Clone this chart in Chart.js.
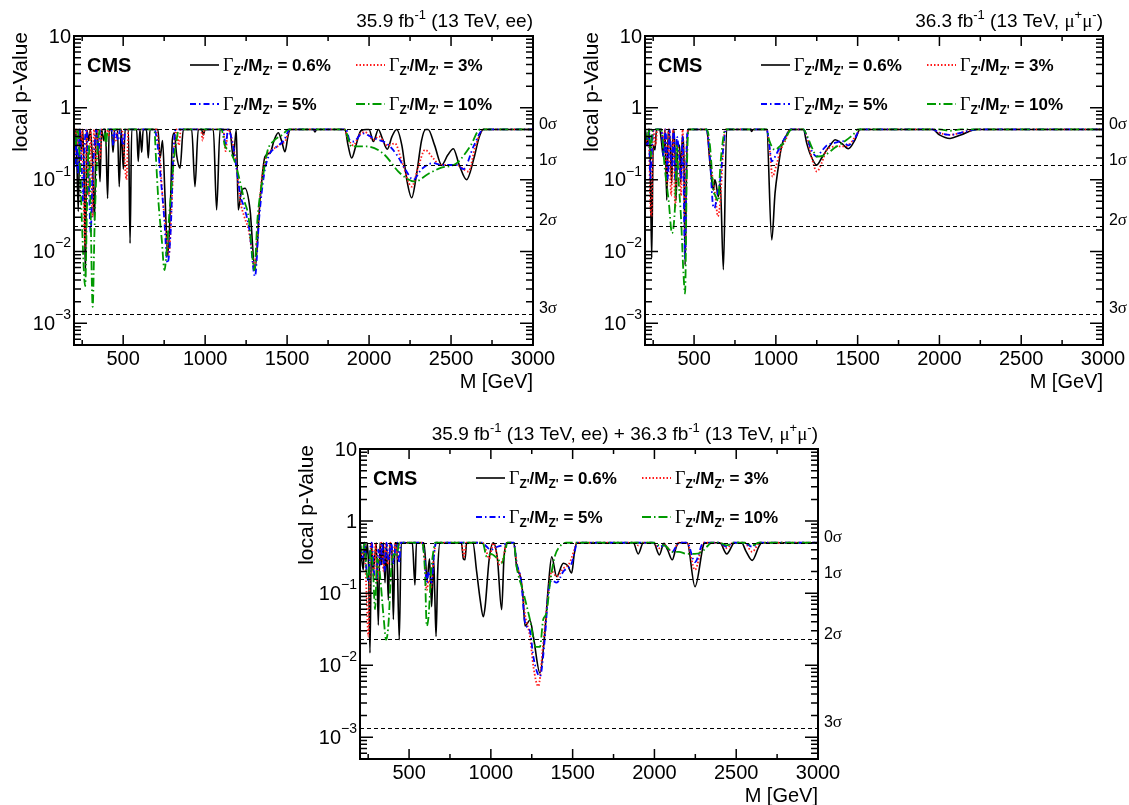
<!DOCTYPE html>
<html>
<head>
<meta charset="utf-8">
<script src="https://cdn.jsdelivr.net/npm/chart.js@4.4.1/dist/chart.umd.min.js"></script>
<style>
  html, body { margin: 0; padding: 0; background: #fff; }
  body { width: 1129px; height: 805px; position: relative; overflow: hidden; }
  canvas { position: absolute; }
</style>
</head>
<body>
<canvas id="eeChart" width="565" height="400" style="left:0;top:0"></canvas>
<canvas id="mmChart" width="564" height="400" style="left:565px;top:0"></canvas>
<canvas id="llChart" width="565" height="392" style="left:286px;top:413px"></canvas>
<script>
// Axis / category values
const widthLabels = ['0.6%', '3%', '5%', '10%'];
const massTicks = [500, 1000, 1500, 2000, 2500, 3000];
const decadeTicks = [-3, -2, -1, 0, 1];
const sigmaNames = ['0', '1', '2', '3'];
const sigmaP = [0.5, 0.1587, 0.02275, 0.00135];

// ee channel: [mass GeV, local p-value]
const eeW06 = [[200,0.5],[206,0.3],[212,0.5],[226,0.036],[236,0.5],[246,0.25],[254,0.5],[262,0.1],[270,0.0045],[278,0.5],[290,0.35],[300,0.5],[312,0.2],[325,0.027],[335,0.5],[348,0.3],[359,0.094],[368,0.5],[382,0.35],[392,0.5],[405,0.055],[415,0.5],[428,0.5],[438,0.24],[448,0.5],[465,0.5],[476,0.08],[488,0.5],[501,0.14],[512,0.5],[532,0.5],[542,0.013],[552,0.5],[582,0.5],[592,0.18],[602,0.5],[613,0.24],[622,0.5],[642,0.5],[653,0.2],[664,0.5],[712,0.5],[725,0.2],[740,0.35],[755,0.06],[772,0.0086],[790,0.06],[800,0.36],[812,0.45],[826,0.22],[847,0.145],[867,0.5],[918,0.5],[938,0.08],[958,0.5],[978,0.5],[989,0.42],[1000,0.5],[1050,0.5],[1070,0.038],[1091,0.5],[1150,0.5],[1172,0.2],[1190,0.5],[1202,0.038],[1222,0.07],[1243,0.076],[1274,0.038],[1304,0.0056],[1335,0.052],[1365,0.21],[1396,0.235],[1420,0.35],[1446,0.45],[1466,0.35],[1487,0.245],[1505,0.4],[1518,0.5],[1660,0.5],[1670,0.46],[1680,0.5],[1853,0.5],[1872,0.3],[1894,0.2],[1920,0.3],[1950,0.48],[1985,0.5],[2000,0.5],[2026,0.34],[2057,0.5],[2080,0.38],[2111,0.265],[2140,0.4],[2168,0.5],[2200,0.3],[2230,0.1],[2260,0.056],[2290,0.12],[2320,0.35],[2345,0.5],[2360,0.5],[2400,0.3],[2443,0.16],[2480,0.22],[2514,0.27],[2550,0.16],[2595,0.1],[2640,0.2],[2670,0.38],[2697,0.5],[3000,0.5]];
const eeW3 = [[200,0.5],[205,0.2],[212,0.5],[222,0.3],[230,0.5],[240,0.15],[250,0.5],[260,0.04],[268,0.012],[276,0.5],[290,0.06],[300,0.5],[312,0.03],[322,0.5],[335,0.16],[345,0.5],[360,0.2],[370,0.5],[402,0.5],[410,0.4],[418,0.5],[440,0.5],[455,0.35],[468,0.5],[492,0.5],[505,0.25],[520,0.1],[532,0.5],[700,0.5],[720,0.25],[740,0.06],[760,0.02],[778,0.009],[795,0.04],[810,0.25],[825,0.5],[840,0.3],[852,0.5],[975,0.5],[985,0.35],[995,0.5],[1110,0.5],[1125,0.25],[1140,0.5],[1165,0.35],[1190,0.16],[1215,0.05],[1240,0.03],[1265,0.02],[1285,0.01],[1300,0.006],[1320,0.02],[1345,0.1],[1370,0.2],[1400,0.25],[1450,0.3],[1490,0.35],[1517,0.5],[1850,0.5],[1870,0.38],[1904,0.3],[1940,0.42],[1975,0.46],[2026,0.36],[2060,0.4],[2111,0.3],[2158,0.32],[2200,0.18],[2260,0.08],[2300,0.15],[2341,0.26],[2390,0.2],[2433,0.16],[2535,0.16],[2606,0.13],[2650,0.3],[2697,0.5],[3000,0.5]];
const eeW5 = [[200,0.5],[208,0.15],[215,0.4],[225,0.12],[235,0.5],[245,0.2],[255,0.05],[265,0.3],[275,0.5],[290,0.1],[302,0.018],[312,0.1],[325,0.3],[335,0.5],[350,0.25],[360,0.5],[430,0.5],[440,0.3],[450,0.5],[470,0.35],[480,0.5],[500,0.3],[515,0.5],[690,0.5],[710,0.3],[730,0.1],[750,0.03],[770,0.0069],[790,0.02],[805,0.2],[820,0.5],[1110,0.5],[1125,0.3],[1140,0.5],[1170,0.3],[1190,0.15],[1215,0.06],[1240,0.04],[1270,0.02],[1304,0.0045],[1330,0.03],[1360,0.12],[1390,0.22],[1430,0.28],[1480,0.35],[1517,0.5],[1860,0.5],[1880,0.36],[1904,0.34],[1960,0.44],[2026,0.38],[2070,0.35],[2107,0.32],[2170,0.22],[2220,0.14],[2270,0.1],[2320,0.14],[2392,0.17],[2443,0.16],[2535,0.16],[2575,0.14],[2640,0.3],[2697,0.5],[3000,0.5]];
const eeW10 = [[200,0.5],[210,0.3],[220,0.5],[235,0.2],[250,0.02],[268,0.0033],[280,0.05],[290,0.3],[300,0.05],[314,0.0017],[325,0.02],[338,0.15],[350,0.4],[360,0.5],[385,0.5],[395,0.3],[405,0.5],[690,0.5],[700,0.2],[715,0.05],[735,0.015],[752,0.0055],[765,0.01],[780,0.03],[795,0.08],[810,0.2],[825,0.35],[840,0.5],[1100,0.5],[1120,0.3],[1150,0.25],[1180,0.18],[1210,0.1],[1240,0.05],[1265,0.03],[1285,0.01],[1300,0.0055],[1320,0.03],[1350,0.1],[1380,0.25],[1420,0.35],[1470,0.42],[1510,0.5],[1850,0.5],[1894,0.29],[1985,0.29],[2087,0.23],[2189,0.123],[2280,0.094],[2360,0.12],[2433,0.145],[2535,0.17],[2620,0.3],[2677,0.5],[3000,0.5]];

// mumu channel
const mmW06 = [[200,0.5],[215,0.3],[225,0.5],[232,0.2],[241,0.0081],[250,0.3],[261,0.26],[270,0.5],[290,0.5],[300,0.35],[312,0.21],[322,0.5],[333,0.052],[342,0.5],[355,0.3],[363,0.089],[372,0.5],[382,0.3],[390,0.052],[400,0.3],[412,0.3],[418,0.089],[428,0.4],[438,0.2],[445,0.0065],[455,0.2],[465,0.5],[577,0.5],[597,0.17],[618,0.072],[627,0.1],[634,0.089],[648,0.058],[660,0.09],[679,0.0056],[699,0.5],[842,0.5],[852,0.47],[862,0.5],[944,0.5],[975,0.0145],[995,0.065],[1015,0.15],[1036,0.3],[1066,0.42],[1087,0.5],[1168,0.5],[1189,0.32],[1209,0.23],[1250,0.16],[1280,0.2],[1311,0.26],[1340,0.32],[1362,0.36],[1403,0.32],[1443,0.27],[1484,0.36],[1515,0.5],[1960,0.5],[2000,0.42],[2065,0.375],[2130,0.42],[2230,0.5],[3000,0.5]];
const mmW3 = [[200,0.5],[212,0.3],[222,0.5],[232,0.05],[240,0.031],[250,0.5],[265,0.3],[275,0.5],[300,0.5],[312,0.3],[322,0.5],[335,0.08],[345,0.5],[360,0.06],[372,0.5],[385,0.04],[395,0.3],[410,0.2],[420,0.06],[430,0.5],[440,0.1],[447,0.01],[455,0.3],[465,0.5],[577,0.5],[597,0.2],[615,0.1],[630,0.06],[645,0.031],[660,0.05],[675,0.2],[690,0.5],[944,0.5],[960,0.3],[980,0.11],[1000,0.15],[1030,0.26],[1060,0.36],[1090,0.5],[1168,0.5],[1189,0.4],[1220,0.2],[1250,0.13],[1280,0.17],[1311,0.26],[1372,0.29],[1420,0.29],[1460,0.33],[1500,0.45],[1515,0.5],[1960,0.5],[2000,0.45],[2065,0.42],[2130,0.45],[2230,0.5],[3000,0.5]];
const mmW5 = [[200,0.5],[215,0.3],[225,0.5],[232,0.1],[240,0.2],[250,0.5],[300,0.5],[315,0.2],[325,0.5],[340,0.1],[350,0.5],[365,0.15],[375,0.5],[385,0.1],[395,0.4],[410,0.2],[420,0.1],[430,0.4],[445,0.008],[455,0.3],[465,0.5],[577,0.5],[597,0.2],[615,0.045],[625,0.04],[640,0.06],[660,0.1],[680,0.3],[695,0.5],[944,0.5],[960,0.3],[975,0.18],[1000,0.22],[1030,0.3],[1060,0.4],[1090,0.5],[1168,0.5],[1189,0.4],[1220,0.25],[1250,0.21],[1280,0.25],[1311,0.3],[1372,0.33],[1403,0.35],[1443,0.3],[1484,0.38],[1515,0.5],[1960,0.5],[2000,0.45],[2065,0.42],[2130,0.45],[2230,0.5],[3000,0.5]];
const mmW10 = [[200,0.5],[215,0.35],[225,0.5],[235,0.2],[245,0.5],[300,0.5],[320,0.15],[345,0.05],[365,0.018],[385,0.05],[395,0.3],[405,0.1],[420,0.03],[435,0.005],[445,0.0026],[455,0.1],[465,0.5],[577,0.5],[597,0.3],[618,0.072],[630,0.06],[648,0.05],[660,0.15],[680,0.4],[690,0.5],[944,0.5],[960,0.35],[995,0.26],[1030,0.3],[1046,0.32],[1070,0.42],[1097,0.5],[1168,0.5],[1188,0.42],[1230,0.25],[1250,0.21],[1300,0.22],[1362,0.28],[1403,0.32],[1460,0.4],[1484,0.45],[1500,0.5],[2000,0.5],[2065,0.48],[2130,0.5],[3000,0.5]];

// ee + mumu combined
const llW06 = [[200,0.5],[210,0.3],[220,0.21],[228,0.5],[236,0.3],[245,0.5],[253,0.2],[261,0.0148],[270,0.5],[280,0.2],[292,0.35],[300,0.5],[312,0.036],[322,0.5],[332,0.25],[343,0.5],[353,0.14],[362,0.5],[373,0.08],[384,0.5],[394,0.44],[404,0.043],[414,0.5],[424,0.5],[440,0.0226],[452,0.5],[520,0.5],[536,0.13],[545,0.5],[590,0.5],[600,0.3],[610,0.15],[625,0.3],[638,0.065],[650,0.3],[657,0.1],[665,0.025],[675,0.2],[690,0.5],[820,0.5],[832,0.3],[842,0.29],[852,0.5],[890,0.5],[913,0.2],[935,0.08],[954,0.047],[965,0.065],[990,0.3],[1015,0.5],[1040,0.3],[1066,0.059],[1080,0.3],[1097,0.5],[1140,0.5],[1158,0.23],[1180,0.17],[1195,0.1],[1209,0.035],[1239,0.042],[1260,0.025],[1300,0.0078],[1331,0.03],[1351,0.12],[1372,0.32],[1402,0.17],[1443,0.26],[1470,0.24],[1494,0.19],[1510,0.35],[1525,0.5],[1871,0.5],[1901,0.35],[1932,0.5],[1995,0.5],[2030,0.34],[2058,0.49],[2080,0.4],[2109,0.29],[2135,0.45],[2152,0.5],[2200,0.5],[2248,0.123],[2300,0.47],[2309,0.5],[2400,0.5],[2442,0.35],[2490,0.5],[2533,0.5],[2560,0.38],[2598,0.285],[2640,0.45],[2656,0.5],[3000,0.5]];
const llW3 = [[200,0.5],[215,0.3],[225,0.5],[240,0.1],[251,0.025],[262,0.3],[272,0.5],[285,0.15],[295,0.5],[305,0.15],[318,0.3],[330,0.5],[345,0.2],[355,0.5],[370,0.25],[385,0.5],[400,0.28],[415,0.5],[430,0.3],[440,0.5],[580,0.5],[595,0.3],[608,0.11],[620,0.15],[635,0.12],[650,0.3],[665,0.5],[820,0.5],[835,0.32],[850,0.5],[950,0.5],[970,0.4],[990,0.3],[1015,0.5],[1030,0.4],[1050,0.25],[1075,0.3],[1097,0.5],[1140,0.5],[1158,0.26],[1185,0.15],[1209,0.05],[1239,0.025],[1260,0.0096],[1290,0.0051],[1320,0.02],[1351,0.1],[1372,0.2],[1402,0.17],[1443,0.22],[1480,0.26],[1510,0.4],[1525,0.5],[1880,0.5],[1901,0.46],[1920,0.5],[1990,0.5],[2030,0.42],[2060,0.47],[2109,0.375],[2150,0.5],[2200,0.5],[2248,0.21],[2300,0.5],[2400,0.5],[2442,0.42],[2480,0.5],[2550,0.5],[2598,0.375],[2645,0.5],[3000,0.5]];
const llW5 = [[200,0.5],[215,0.3],[228,0.5],[240,0.2],[251,0.15],[262,0.4],[272,0.5],[285,0.2],[300,0.15],[312,0.4],[325,0.25],[335,0.5],[350,0.2],[362,0.5],[375,0.28],[390,0.5],[405,0.26],[420,0.5],[430,0.5],[440,0.26],[450,0.5],[580,0.5],[595,0.3],[608,0.14],[620,0.2],[638,0.14],[650,0.3],[665,0.5],[950,0.5],[975,0.44],[1000,0.4],[1040,0.44],[1080,0.47],[1100,0.5],[1140,0.5],[1158,0.26],[1185,0.15],[1209,0.039],[1239,0.03],[1260,0.013],[1300,0.007],[1331,0.025],[1351,0.1],[1372,0.15],[1402,0.14],[1443,0.2],[1494,0.26],[1515,0.4],[1525,0.5],[1990,0.5],[2030,0.44],[2060,0.46],[2109,0.375],[2150,0.5],[2200,0.5],[2248,0.27],[2300,0.5],[2400,0.5],[2442,0.44],[2480,0.5],[2550,0.5],[2598,0.44],[2645,0.5],[3000,0.5]];
const llW10 = [[200,0.5],[215,0.35],[228,0.5],[240,0.2],[251,0.15],[265,0.4],[280,0.2],[292,0.06],[305,0.3],[320,0.2],[343,0.05],[360,0.0226],[375,0.04],[390,0.2],[410,0.35],[424,0.32],[440,0.5],[580,0.5],[597,0.2],[608,0.035],[620,0.05],[635,0.2],[650,0.4],[660,0.5],[950,0.5],[975,0.32],[1000,0.35],[1040,0.3],[1066,0.26],[1090,0.4],[1100,0.5],[1140,0.5],[1158,0.23],[1195,0.11],[1239,0.043],[1275,0.018],[1300,0.018],[1320,0.043],[1340,0.053],[1362,0.14],[1390,0.32],[1420,0.44],[1460,0.5],[2000,0.5],[2030,0.46],[2060,0.46],[2109,0.375],[2150,0.375],[2200,0.35],[2248,0.35],[2290,0.375],[2320,0.44],[2350,0.5],[2400,0.5],[2442,0.46],[2480,0.5],[2550,0.5],[2598,0.46],[2640,0.5],[3000,0.5]];

const SANS = '"Liberation Sans", Arial, Helvetica, sans-serif';
const SERIF = '"Liberation Serif", "Times New Roman", serif';

const lineStyles = [
    { color: '#000000', dash: [], width: 1.6 },
    { color: '#ff1a1a', dash: [1.5, 2], width: 1.8 },
    { color: '#0000ff', dash: [6, 3, 1.5, 3], width: 1.8 },
    { color: '#009a00', dash: [9, 3, 1.5, 3], width: 1.8 }
];

function richWidth(ctx, parts) {
    let w = 0;
    parts.forEach(p => { ctx.font = p.font; w += ctx.measureText(p.t).width; });
    return w;
}

function drawRich(ctx, parts, x, y, align) {
    let cx = align === 'right' ? x - richWidth(ctx, parts) : x;
    ctx.textAlign = 'left';
    parts.forEach(p => {
        ctx.font = p.font;
        ctx.fillText(p.t, cx, y + (p.dy || 0));
        cx += ctx.measureText(p.t).width;
    });
}

const T = (t) => ({ t, font: `19px ${SANS}` });
const SUP = (t) => ({ t, font: `13px ${SANS}`, dy: -8 });
const MU = { t: '\u03bc', font: `19px ${SERIF}` };

const eeTitle = [T('35.9 fb'), SUP('-1'), T(' (13 TeV, ee)')];
const mmTitle = [T('36.3 fb'), SUP('-1'), T(' (13 TeV, '), MU, SUP('+'), MU, SUP('-'), T(')')];
const llTitle = eeTitle.concat([T(' + ')], mmTitle);

function legendParts(w) {
    return [
        { t: '\u0393', font: `18px ${SERIF}` },
        { t: "Z'", font: `bold 12px ${SANS}`, dy: 4 },
        { t: '/M', font: `bold 17px ${SANS}` },
        { t: "Z'", font: `bold 12px ${SANS}`, dy: 4 },
        { t: ' = ' + w, font: `bold 17px ${SANS}` }
    ];
}

// ROOT-style frame, ticks, labels, sigma lines and legend
const rootFrame = {
    id: 'rootFrame',
    afterDraw(chart, args, opts) {
        const { ctx, chartArea: a, scales: { x, y } } = chart;
        ctx.save();
        ctx.fillStyle = '#000';
        ctx.strokeStyle = '#000';

        // significance lines
        ctx.lineWidth = 1.2;
        ctx.setLineDash([4, 3]);
        sigmaP.forEach(p => {
            const py = Math.round(y.getPixelForValue(p)) + 0.5;
            ctx.beginPath(); ctx.moveTo(a.left, py); ctx.lineTo(a.right, py); ctx.stroke();
        });
        ctx.setLineDash([]);
        ctx.textBaseline = 'middle';
        sigmaP.forEach((p, i) => {
            const py = y.getPixelForValue(p) - 5;
            drawRich(ctx, [{ t: sigmaNames[i], font: `16px ${SANS}` }, { t: '\u03c3', font: `17px ${SERIF}` }], a.right + 24, py, 'right');
        });

        // frame
        ctx.lineWidth = 2;
        ctx.strokeRect(a.left, a.top, a.right - a.left, a.bottom - a.top);

        // x ticks (inside, bottom and top)
        ctx.lineWidth = 1.5;
        for (let m = 250; m <= 3000; m += 250) {
            if (m <= x.min || m >= x.max) continue;
            const px = x.getPixelForValue(m);
            const len = m % 500 === 0 ? 10 : 5;
            ctx.beginPath();
            ctx.moveTo(px, a.bottom); ctx.lineTo(px, a.bottom - len);
            ctx.moveTo(px, a.top); ctx.lineTo(px, a.top + len);
            ctx.stroke();
        }
        // y ticks (inside, left and right)
        for (let d = -4; d <= 1; d++) {
            for (let k = 1; k <= 9; k++) {
                const v = k * Math.pow(10, d);
                if (v < y.min || v > y.max * 1.0001) continue;
                const py = y.getPixelForValue(v);
                const len = k === 1 ? 13 : 7;
                ctx.beginPath();
                ctx.moveTo(a.left, py); ctx.lineTo(a.left + len, py);
                ctx.moveTo(a.right, py); ctx.lineTo(a.right - len, py);
                ctx.stroke();
            }
        }

        // x tick labels
        ctx.font = `20px ${SANS}`;
        ctx.textAlign = 'center';
        ctx.textBaseline = 'middle';
        massTicks.forEach(m => ctx.fillText(String(m), x.getPixelForValue(m), a.bottom + 14));

        // y tick labels
        decadeTicks.forEach(d => {
            const py = y.getPixelForValue(Math.pow(10, d));
            let parts;
            if (d === 0) parts = [{ t: '1', font: `20px ${SANS}` }];
            else if (d === 1) parts = [{ t: '10', font: `20px ${SANS}` }];
            else parts = [{ t: '10', font: `20px ${SANS}` }, { t: '\u2212' + (-d), font: `14px ${SANS}`, dy: -9 }];
            ctx.textBaseline = 'middle';
            drawRich(ctx, parts, a.left - 3, py + 1, 'right');
        });

        // axis titles
        ctx.textBaseline = 'alphabetic';
        ctx.font = `20px ${SANS}`;
        ctx.textAlign = 'right';
        ctx.fillText('M [GeV]', a.right, a.bottom + 43);
        ctx.save();
        ctx.translate(a.left - 47, a.top - 4);
        ctx.rotate(-Math.PI / 2);
        ctx.font = `21px ${SANS}`;
        ctx.textAlign = 'right';
        ctx.fillText('local p-Value', 0, 0);
        ctx.restore();

        // top title
        drawRich(ctx, opts.title, a.right, a.top - 9, 'right');

        // CMS label
        ctx.font = `bold 20px ${SANS}`;
        ctx.textAlign = 'left';
        ctx.fillText('CMS', a.left + 13, a.top + 36);

        // legend (2 x 2)
        const cols = [a.left + 116, a.left + 282];
        const rows = [a.top + 35, a.top + 74];
        widthLabels.forEach((w, i) => {
            const cx = cols[i % 2];
            const ry = rows[Math.floor(i / 2)];
            const st = lineStyles[i];
            ctx.strokeStyle = st.color;
            ctx.lineWidth = st.width;
            ctx.setLineDash(st.dash);
            ctx.beginPath(); ctx.moveTo(cx, ry - 6); ctx.lineTo(cx + 29, ry - 6); ctx.stroke();
            ctx.setLineDash([]);
            ctx.fillStyle = '#000';
            drawRich(ctx, legendParts(w), cx + 33, ry, 'left');
        });
        ctx.restore();
    }
};

function makeDatasets(series) {
    return series.map((pts, i) => ({
        label: widthLabels[i],
        data: pts.map(([m, p]) => ({ x: m, y: p })),
        borderColor: lineStyles[i].color,
        borderDash: lineStyles[i].dash,
        borderWidth: lineStyles[i].width,
        pointRadius: 0,
        showLine: true,
        fill: false,
        cubicInterpolationMode: 'monotone',
        order: 4 - i
    }));
}

function buildPanel(id, series, title, box) {
    const canvas = document.getElementById(id);
    new Chart(canvas, {
        type: 'scatter',
        data: { datasets: makeDatasets(series) },
        options: {
            responsive: false,
            animation: false,
            layout: {
                padding: { left: box.left, top: box.top, right: canvas.width - box.right, bottom: canvas.height - box.bottom }
            },
            scales: {
                x: { type: 'linear', min: 200, max: 3000, display: false },
                y: { type: 'logarithmic', min: 5e-4, max: 10, display: false }
            },
            plugins: {
                legend: { display: false },
                tooltip: { enabled: false },
                rootFrame: { title: title }
            }
        },
        plugins: [rootFrame]
    });
}

document.addEventListener('DOMContentLoaded', () => {
    buildPanel('eeChart', [eeW06, eeW3, eeW5, eeW10], eeTitle, { left: 74, top: 36, right: 533, bottom: 345 });
    buildPanel('mmChart', [mmW06, mmW3, mmW5, mmW10], mmTitle, { left: 80, top: 36, right: 538, bottom: 345 });
    buildPanel('llChart', [llW06, llW3, llW5, llW10], llTitle, { left: 74, top: 36, right: 532, bottom: 346 });
});
</script>
</body>
</html>
